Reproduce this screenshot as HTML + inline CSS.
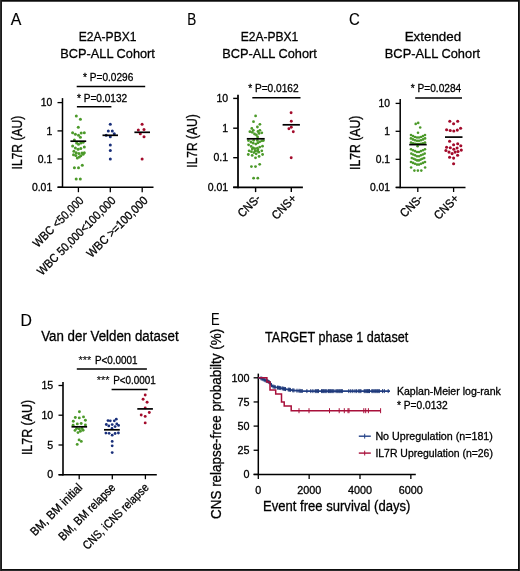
<!DOCTYPE html>
<html><head><meta charset="utf-8"><title>Figure</title>
<style>
html,body{margin:0;padding:0;background:#fff;}
svg{display:block;will-change:transform;font-family:"Liberation Sans",sans-serif;}
</style></head>
<body>
<svg width="520" height="571" viewBox="0 0 520 571">
<rect x="0" y="0" width="520" height="571" fill="#fff"/>
<g shape-rendering="crispEdges"><rect x="0" y="0" width="520" height="1" fill="#0b0b0b"/><rect x="0" y="1" width="520" height="1" fill="#4d4d4d"/><rect x="0" y="569" width="520" height="1" fill="#0d0d0d"/><rect x="0" y="570" width="520" height="1" fill="#2b2b2b"/><rect x="0" y="0" width="1" height="571" fill="#2e2e2e"/><rect x="1" y="0" width="1" height="571" fill="#1a1a1a"/><rect x="518" y="0" width="1" height="571" fill="#0d0d0d"/><rect x="519" y="0" width="1" height="571" fill="#2b2b2b"/></g>
<text x="10.8" y="25" font-size="16" stroke="#000" stroke-width="0.15" textLength="10.6" lengthAdjust="spacingAndGlyphs" fill="#000">A</text>
<text x="187.2" y="25" font-size="16" stroke="#000" stroke-width="0.15" textLength="9.0" lengthAdjust="spacingAndGlyphs" fill="#000">B</text>
<text x="349.0" y="25.4" font-size="16" stroke="#000" stroke-width="0.15" textLength="10.8" lengthAdjust="spacingAndGlyphs" fill="#000">C</text>
<text x="20.4" y="325.6" font-size="16.6" stroke="#000" stroke-width="0.15" textLength="11.4" lengthAdjust="spacingAndGlyphs" fill="#000">D</text>
<text x="210.9" y="325.0" font-size="16" stroke="#000" stroke-width="0.15" textLength="8.6" lengthAdjust="spacingAndGlyphs" fill="#000">E</text>
<text x="107.6" y="41.3" font-size="13.5" stroke="#000" stroke-width="0.3" text-anchor="middle" textLength="57.7" lengthAdjust="spacingAndGlyphs" fill="#000">E2A-PBX1</text>
<text x="107.6" y="58.2" font-size="13.5" stroke="#000" stroke-width="0.3" text-anchor="middle" textLength="94.6" lengthAdjust="spacingAndGlyphs" fill="#000">BCP-ALL Cohort</text>
<text x="83.1" y="81.2" font-size="10.8" stroke="#000" stroke-width="0.3" textLength="50.2" lengthAdjust="spacingAndGlyphs" fill="#000">* P=0.0296</text>
<line x1="76.7" y1="86.4" x2="145.2" y2="86.4" stroke="#000" stroke-width="1.5" stroke-linecap="butt"/>
<text x="77.0" y="101.6" font-size="10.8" stroke="#000" stroke-width="0.3" textLength="50.2" lengthAdjust="spacingAndGlyphs" fill="#000">* P=0.0132</text>
<line x1="76.9" y1="106.7" x2="111.4" y2="106.7" stroke="#000" stroke-width="1.5" stroke-linecap="butt"/>
<line x1="62.5" y1="98.1" x2="62.5" y2="187.95" stroke="#000" stroke-width="1.5" stroke-linecap="butt"/>
<line x1="57.6" y1="187.2" x2="153.5" y2="187.2" stroke="#000" stroke-width="1.5" stroke-linecap="butt"/>
<line x1="57.5" y1="102.6" x2="62.5" y2="102.6" stroke="#000" stroke-width="1.3" stroke-linecap="butt"/>
<text x="52.2" y="106.3" font-size="10.4" stroke="#000" stroke-width="0.3" text-anchor="end" fill="#000">10</text>
<line x1="57.5" y1="130.9" x2="62.5" y2="130.9" stroke="#000" stroke-width="1.3" stroke-linecap="butt"/>
<text x="52.2" y="134.6" font-size="10.4" stroke="#000" stroke-width="0.3" text-anchor="end" fill="#000">1</text>
<line x1="57.5" y1="159.0" x2="62.5" y2="159.0" stroke="#000" stroke-width="1.3" stroke-linecap="butt"/>
<text x="52.2" y="162.7" font-size="10.4" stroke="#000" stroke-width="0.3" text-anchor="end" fill="#000">0.1</text>
<line x1="57.5" y1="187.2" x2="62.5" y2="187.2" stroke="#000" stroke-width="1.3" stroke-linecap="butt"/>
<text x="52.2" y="190.89999999999998" font-size="10.4" stroke="#000" stroke-width="0.3" text-anchor="end" fill="#000">0.01</text>
<line x1="78.4" y1="187.2" x2="78.4" y2="192.2" stroke="#000" stroke-width="1.3" stroke-linecap="butt"/>
<line x1="110.3" y1="187.2" x2="110.3" y2="192.2" stroke="#000" stroke-width="1.3" stroke-linecap="butt"/>
<line x1="142.2" y1="187.2" x2="142.2" y2="192.2" stroke="#000" stroke-width="1.3" stroke-linecap="butt"/>
<text transform="translate(22.0,142.6) rotate(-90)" font-size="13.8" stroke="#000" stroke-width="0.3" text-anchor="middle" textLength="53.6" lengthAdjust="spacingAndGlyphs" fill="#000">IL7R (AU)</text>
<g fill="#4c9a2a"><circle cx="76.3" cy="116.1" r="1.5"/><circle cx="80.4" cy="119.3" r="1.5"/><circle cx="78.3" cy="127.3" r="1.5"/><circle cx="72.6" cy="132.8" r="1.5"/><circle cx="75.4" cy="134.3" r="1.5"/><circle cx="78.5" cy="135.3" r="1.5"/><circle cx="81.2" cy="133.0" r="1.5"/><circle cx="84.3" cy="132.8" r="1.5"/><circle cx="80.4" cy="137.3" r="1.5"/><circle cx="74.4" cy="140.0" r="1.5"/><circle cx="76.6" cy="143.0" r="1.5"/><circle cx="78.5" cy="144.2" r="1.5"/><circle cx="80.8" cy="143.0" r="1.5"/><circle cx="83.1" cy="142.3" r="1.5"/><circle cx="72.6" cy="145.9" r="1.5"/><circle cx="84.3" cy="146.9" r="1.5"/><circle cx="75.4" cy="148.1" r="1.5"/><circle cx="78.1" cy="149.2" r="1.5"/><circle cx="80.8" cy="148.5" r="1.5"/><circle cx="73.9" cy="151.2" r="1.5"/><circle cx="84.3" cy="152.7" r="1.5"/><circle cx="76.2" cy="152.7" r="1.5"/><circle cx="78.9" cy="153.5" r="1.5"/><circle cx="82.0" cy="153.1" r="1.5"/><circle cx="73.5" cy="154.8" r="1.5"/><circle cx="75.8" cy="155.4" r="1.5"/><circle cx="80.8" cy="155.8" r="1.5"/><circle cx="83.1" cy="154.3" r="1.5"/><circle cx="77.3" cy="158.1" r="1.5"/><circle cx="79.3" cy="157.0" r="1.5"/><circle cx="82.3" cy="165.3" r="1.5"/><circle cx="74.4" cy="167.7" r="1.5"/><circle cx="78.5" cy="167.7" r="1.5"/><circle cx="76.2" cy="178.9" r="1.5"/><circle cx="80.3" cy="178.9" r="1.5"/></g>
<line x1="70.4" y1="141.2" x2="86.2" y2="141.2" stroke="#000" stroke-width="1.7" stroke-linecap="butt"/>
<g fill="#192f7a"><circle cx="110.3" cy="124.3" r="1.5"/><circle cx="108.3" cy="131.1" r="1.5"/><circle cx="112.3" cy="131.1" r="1.5"/><circle cx="114.3" cy="133.8" r="1.5"/><circle cx="106.2" cy="135.3" r="1.5"/><circle cx="110.3" cy="136.7" r="1.5"/><circle cx="110.3" cy="145.1" r="1.5"/><circle cx="110.3" cy="150.5" r="1.5"/><circle cx="110.3" cy="158.9" r="1.5"/></g>
<line x1="102.5" y1="135.3" x2="118.0" y2="135.3" stroke="#000" stroke-width="1.7" stroke-linecap="butt"/>
<g fill="#a30b2b"><circle cx="142.1" cy="124.2" r="1.5"/><circle cx="138.3" cy="130.0" r="1.5"/><circle cx="144.0" cy="129.6" r="1.5"/><circle cx="140.3" cy="133.8" r="1.5"/><circle cx="144.0" cy="136.7" r="1.5"/><circle cx="142.1" cy="159.1" r="1.5"/></g>
<line x1="134.4" y1="132.3" x2="150.0" y2="132.3" stroke="#000" stroke-width="1.7" stroke-linecap="butt"/>
<text transform="translate(84.5,201.3) rotate(-45)" font-size="12.0" stroke="#000" stroke-width="0.3" text-anchor="end" textLength="66" lengthAdjust="spacingAndGlyphs" fill="#000">WBC &lt;50,000</text>
<text transform="translate(116.5,201.3) rotate(-45)" font-size="12.0" stroke="#000" stroke-width="0.3" text-anchor="end" textLength="105.5" lengthAdjust="spacingAndGlyphs" fill="#000">WBC 50,000&lt;100,000</text>
<text transform="translate(148.5,201.3) rotate(-45)" font-size="12.0" stroke="#000" stroke-width="0.3" text-anchor="end" textLength="80.5" lengthAdjust="spacingAndGlyphs" fill="#000">WBC &gt;=100,000</text>
<text x="269.5" y="41.3" font-size="13.5" stroke="#000" stroke-width="0.3" text-anchor="middle" textLength="57.7" lengthAdjust="spacingAndGlyphs" fill="#000">E2A-PBX1</text>
<text x="269.5" y="58.2" font-size="13.5" stroke="#000" stroke-width="0.3" text-anchor="middle" textLength="94.6" lengthAdjust="spacingAndGlyphs" fill="#000">BCP-ALL Cohort</text>
<text x="248.2" y="92.2" font-size="10.8" stroke="#000" stroke-width="0.3" textLength="50.4" lengthAdjust="spacingAndGlyphs" fill="#000">* P=0.0162</text>
<line x1="252.3" y1="97.8" x2="300.5" y2="97.8" stroke="#000" stroke-width="1.5" stroke-linecap="butt"/>
<line x1="238.0" y1="94.7" x2="238.0" y2="188.175" stroke="#000" stroke-width="1.75" stroke-linecap="butt"/>
<line x1="233.2" y1="187.3" x2="302.9" y2="187.3" stroke="#000" stroke-width="1.75" stroke-linecap="butt"/>
<line x1="233.2" y1="98.4" x2="238.0" y2="98.4" stroke="#000" stroke-width="1.4" stroke-linecap="butt"/>
<text x="228.1" y="101.9" font-size="10.5" stroke="#000" stroke-width="0.3" text-anchor="end" fill="#000">10</text>
<line x1="233.2" y1="128.2" x2="238.0" y2="128.2" stroke="#000" stroke-width="1.4" stroke-linecap="butt"/>
<text x="228.1" y="131.7" font-size="10.5" stroke="#000" stroke-width="0.3" text-anchor="end" fill="#000">1</text>
<line x1="233.2" y1="157.7" x2="238.0" y2="157.7" stroke="#000" stroke-width="1.4" stroke-linecap="butt"/>
<text x="228.1" y="161.2" font-size="10.5" stroke="#000" stroke-width="0.3" text-anchor="end" fill="#000">0.1</text>
<line x1="233.2" y1="187.3" x2="238.0" y2="187.3" stroke="#000" stroke-width="1.4" stroke-linecap="butt"/>
<text x="228.1" y="190.8" font-size="10.5" stroke="#000" stroke-width="0.3" text-anchor="end" fill="#000">0.01</text>
<line x1="255.6" y1="187.3" x2="255.6" y2="192.10000000000002" stroke="#000" stroke-width="1.4" stroke-linecap="butt"/>
<line x1="291.3" y1="187.3" x2="291.3" y2="192.10000000000002" stroke="#000" stroke-width="1.4" stroke-linecap="butt"/>
<text transform="translate(196.8,141.0) rotate(-90)" font-size="13.8" stroke="#000" stroke-width="0.3" text-anchor="middle" textLength="53.4" lengthAdjust="spacingAndGlyphs" fill="#000">IL7R (AU)</text>
<g fill="#4c9a2a"><circle cx="255.6" cy="115.9" r="1.4"/><circle cx="253.5" cy="121.7" r="1.4"/><circle cx="259.9" cy="124.3" r="1.4"/><circle cx="257.4" cy="127.0" r="1.4"/><circle cx="251.8" cy="128.4" r="1.4"/><circle cx="259.9" cy="130.3" r="1.4"/><circle cx="253.3" cy="130.3" r="1.4"/><circle cx="249.9" cy="131.7" r="1.4"/><circle cx="252.2" cy="132.3" r="1.4"/><circle cx="258.0" cy="131.5" r="1.4"/><circle cx="261.8" cy="132.8" r="1.4"/><circle cx="254.5" cy="134.0" r="1.4"/><circle cx="259.1" cy="133.4" r="1.4"/><circle cx="256.4" cy="135.0" r="1.4"/><circle cx="257.6" cy="136.9" r="1.4"/><circle cx="248.4" cy="140.6" r="1.4"/><circle cx="250.9" cy="142.0" r="1.4"/><circle cx="253.7" cy="140.3" r="1.4"/><circle cx="253.2" cy="143.2" r="1.4"/><circle cx="255.8" cy="144.1" r="1.4"/><circle cx="257.8" cy="142.9" r="1.4"/><circle cx="259.7" cy="141.8" r="1.4"/><circle cx="261.8" cy="140.8" r="1.4"/><circle cx="263.4" cy="140.6" r="1.4"/><circle cx="257.4" cy="140.4" r="1.4"/><circle cx="248.6" cy="144.8" r="1.4"/><circle cx="251.2" cy="146.4" r="1.4"/><circle cx="253.2" cy="147.8" r="1.4"/><circle cx="254.9" cy="148.7" r="1.4"/><circle cx="257.4" cy="148.2" r="1.4"/><circle cx="259.7" cy="147.1" r="1.4"/><circle cx="262.5" cy="146.2" r="1.4"/><circle cx="252.3" cy="149.0" r="1.4"/><circle cx="257.9" cy="149.8" r="1.4"/><circle cx="249.1" cy="150.8" r="1.4"/><circle cx="251.4" cy="151.7" r="1.4"/><circle cx="253.9" cy="152.6" r="1.4"/><circle cx="256.2" cy="153.8" r="1.4"/><circle cx="258.8" cy="152.2" r="1.4"/><circle cx="261.8" cy="150.8" r="1.4"/><circle cx="255.1" cy="150.9" r="1.4"/><circle cx="257.4" cy="150.9" r="1.4"/><circle cx="248.3" cy="154.5" r="1.4"/><circle cx="252.2" cy="155.4" r="1.4"/><circle cx="255.5" cy="157.8" r="1.4"/><circle cx="259.1" cy="156.4" r="1.4"/><circle cx="262.6" cy="154.5" r="1.4"/><circle cx="259.7" cy="164.3" r="1.4"/><circle cx="251.4" cy="166.6" r="1.4"/><circle cx="255.5" cy="166.6" r="1.4"/><circle cx="253.6" cy="178.2" r="1.4"/><circle cx="257.8" cy="178.2" r="1.4"/></g>
<line x1="246.8" y1="138.8" x2="264.7" y2="138.8" stroke="#000" stroke-width="1.7" stroke-linecap="butt"/>
<g fill="#a30b2b"><circle cx="291.1" cy="112.7" r="1.45"/><circle cx="291.3" cy="121.2" r="1.45"/><circle cx="291.3" cy="127.3" r="1.45"/><circle cx="288.9" cy="128.7" r="1.45"/><circle cx="293.3" cy="131.8" r="1.45"/><circle cx="291.2" cy="157.7" r="1.45"/></g>
<line x1="282.6" y1="124.8" x2="299.9" y2="124.8" stroke="#000" stroke-width="1.7" stroke-linecap="butt"/>
<text transform="translate(261.3,199.3) rotate(-45)" font-size="12.0" stroke="#000" stroke-width="0.3" text-anchor="end" textLength="26.5" lengthAdjust="spacingAndGlyphs" fill="#000">CNS-</text>
<text transform="translate(297.3,199.3) rotate(-45)" font-size="12.0" stroke="#000" stroke-width="0.3" text-anchor="end" textLength="29.5" lengthAdjust="spacingAndGlyphs" fill="#000">CNS+</text>
<text x="432.9" y="40.9" font-size="13.5" stroke="#000" stroke-width="0.3" text-anchor="middle" textLength="56.5" lengthAdjust="spacingAndGlyphs" fill="#000">Extended</text>
<text x="432.4" y="58.0" font-size="13.5" stroke="#000" stroke-width="0.3" text-anchor="middle" textLength="95.2" lengthAdjust="spacingAndGlyphs" fill="#000">BCP-ALL Cohort</text>
<text x="410.8" y="91.6" font-size="10.8" stroke="#000" stroke-width="0.3" textLength="50.4" lengthAdjust="spacingAndGlyphs" fill="#000">* P=0.0284</text>
<line x1="415.2" y1="98.0" x2="462.0" y2="98.0" stroke="#000" stroke-width="1.5" stroke-linecap="butt"/>
<line x1="400.2" y1="99.0" x2="400.2" y2="188.15" stroke="#000" stroke-width="1.5" stroke-linecap="butt"/>
<line x1="395.8" y1="187.4" x2="465.5" y2="187.4" stroke="#000" stroke-width="1.5" stroke-linecap="butt"/>
<line x1="395.59999999999997" y1="103.4" x2="400.2" y2="103.4" stroke="#000" stroke-width="1.3" stroke-linecap="butt"/>
<text x="390.0" y="106.9" font-size="10.3" stroke="#000" stroke-width="0.3" text-anchor="end" fill="#000">10</text>
<line x1="395.59999999999997" y1="131.3" x2="400.2" y2="131.3" stroke="#000" stroke-width="1.3" stroke-linecap="butt"/>
<text x="390.0" y="134.8" font-size="10.3" stroke="#000" stroke-width="0.3" text-anchor="end" fill="#000">1</text>
<line x1="395.59999999999997" y1="159.3" x2="400.2" y2="159.3" stroke="#000" stroke-width="1.3" stroke-linecap="butt"/>
<text x="390.0" y="162.8" font-size="10.3" stroke="#000" stroke-width="0.3" text-anchor="end" fill="#000">0.1</text>
<line x1="395.59999999999997" y1="187.4" x2="400.2" y2="187.4" stroke="#000" stroke-width="1.3" stroke-linecap="butt"/>
<text x="390.0" y="190.9" font-size="10.3" stroke="#000" stroke-width="0.3" text-anchor="end" fill="#000">0.01</text>
<line x1="417.8" y1="187.4" x2="417.8" y2="192.0" stroke="#000" stroke-width="1.3" stroke-linecap="butt"/>
<line x1="453.6" y1="187.4" x2="453.6" y2="192.0" stroke="#000" stroke-width="1.3" stroke-linecap="butt"/>
<text transform="translate(359.7,142.8) rotate(-90)" font-size="13.8" stroke="#000" stroke-width="0.3" text-anchor="middle" textLength="54.4" lengthAdjust="spacingAndGlyphs" fill="#000">IL7R (AU)</text>
<g fill="#4c9a2a"><circle cx="415.7" cy="123.9" r="1.3"/><circle cx="418.2" cy="122.9" r="1.3"/><circle cx="420.2" cy="127.5" r="1.3"/><circle cx="418.0" cy="132.7" r="1.3"/><circle cx="411.0" cy="135.0" r="1.3"/><circle cx="413.0" cy="136.1" r="1.3"/><circle cx="415.0" cy="137.0" r="1.3"/><circle cx="417.0" cy="137.5" r="1.3"/><circle cx="419.0" cy="137.5" r="1.3"/><circle cx="421.0" cy="137.0" r="1.3"/><circle cx="423.0" cy="136.1" r="1.3"/><circle cx="425.0" cy="135.0" r="1.3"/><circle cx="410.9" cy="138.4" r="1.3"/><circle cx="412.9" cy="139.4" r="1.3"/><circle cx="415.0" cy="140.2" r="1.3"/><circle cx="417.0" cy="140.7" r="1.3"/><circle cx="419.0" cy="140.7" r="1.3"/><circle cx="421.0" cy="140.2" r="1.3"/><circle cx="423.1" cy="139.4" r="1.3"/><circle cx="425.1" cy="138.4" r="1.3"/><circle cx="411.0" cy="142.6" r="1.3"/><circle cx="413.0" cy="143.2" r="1.3"/><circle cx="415.0" cy="143.8" r="1.3"/><circle cx="417.0" cy="144.1" r="1.3"/><circle cx="419.0" cy="144.1" r="1.3"/><circle cx="421.0" cy="143.8" r="1.3"/><circle cx="423.0" cy="143.2" r="1.3"/><circle cx="425.0" cy="142.6" r="1.3"/><circle cx="417.6" cy="146.2" r="1.3"/><circle cx="411.0" cy="149.3" r="1.3"/><circle cx="413.0" cy="150.2" r="1.3"/><circle cx="415.0" cy="151.1" r="1.3"/><circle cx="417.0" cy="152.0" r="1.3"/><circle cx="419.0" cy="152.0" r="1.3"/><circle cx="421.0" cy="151.1" r="1.3"/><circle cx="423.0" cy="150.2" r="1.3"/><circle cx="425.0" cy="149.3" r="1.3"/><circle cx="411.3" cy="153.6" r="1.3"/><circle cx="413.2" cy="154.5" r="1.3"/><circle cx="415.1" cy="155.3" r="1.3"/><circle cx="417.0" cy="156.2" r="1.3"/><circle cx="419.0" cy="156.2" r="1.3"/><circle cx="420.9" cy="155.3" r="1.3"/><circle cx="422.8" cy="154.5" r="1.3"/><circle cx="424.7" cy="153.6" r="1.3"/><circle cx="411.8" cy="158.0" r="1.3"/><circle cx="413.6" cy="158.8" r="1.3"/><circle cx="415.3" cy="159.6" r="1.3"/><circle cx="417.1" cy="160.4" r="1.3"/><circle cx="418.9" cy="160.4" r="1.3"/><circle cx="420.7" cy="159.6" r="1.3"/><circle cx="422.4" cy="158.8" r="1.3"/><circle cx="424.2" cy="158.0" r="1.3"/><circle cx="411.0" cy="162.0" r="1.3"/><circle cx="413.0" cy="162.9" r="1.3"/><circle cx="415.0" cy="163.7" r="1.3"/><circle cx="417.0" cy="164.6" r="1.3"/><circle cx="419.0" cy="164.6" r="1.3"/><circle cx="421.0" cy="163.7" r="1.3"/><circle cx="423.0" cy="162.9" r="1.3"/><circle cx="425.0" cy="162.0" r="1.3"/><circle cx="411.1" cy="167.5" r="1.3"/><circle cx="425.1" cy="167.5" r="1.3"/><circle cx="414.4" cy="170.6" r="1.3"/><circle cx="417.9" cy="170.6" r="1.3"/><circle cx="421.3" cy="170.6" r="1.3"/></g>
<line x1="409.2" y1="144.6" x2="426.7" y2="144.6" stroke="#000" stroke-width="1.7" stroke-linecap="butt"/>
<g fill="#a30b2b"><circle cx="449.8" cy="121.2" r="1.55"/><circle cx="457.7" cy="121.2" r="1.55"/><circle cx="453.6" cy="123.8" r="1.55"/><circle cx="446.6" cy="129.7" r="1.55"/><circle cx="450.2" cy="130.5" r="1.55"/><circle cx="453.8" cy="131.0" r="1.55"/><circle cx="457.3" cy="130.1" r="1.55"/><circle cx="460.6" cy="128.2" r="1.55"/><circle cx="449.6" cy="141.3" r="1.55"/><circle cx="453.6" cy="144.7" r="1.55"/><circle cx="457.7" cy="143.8" r="1.55"/><circle cx="460.8" cy="145.7" r="1.55"/><circle cx="446.6" cy="147.2" r="1.55"/><circle cx="450.3" cy="147.7" r="1.55"/><circle cx="457.1" cy="148.0" r="1.55"/><circle cx="453.8" cy="149.3" r="1.55"/><circle cx="445.9" cy="150.5" r="1.55"/><circle cx="461.3" cy="150.1" r="1.55"/><circle cx="449.0" cy="152.1" r="1.55"/><circle cx="455.1" cy="152.1" r="1.55"/><circle cx="458.0" cy="151.5" r="1.55"/><circle cx="452.1" cy="153.6" r="1.55"/><circle cx="457.6" cy="155.3" r="1.55"/><circle cx="449.6" cy="157.2" r="1.55"/><circle cx="453.6" cy="158.1" r="1.55"/><circle cx="453.6" cy="163.7" r="1.55"/></g>
<line x1="445.0" y1="137.1" x2="462.5" y2="137.1" stroke="#000" stroke-width="1.7" stroke-linecap="butt"/>
<text transform="translate(423.6,199.3) rotate(-45)" font-size="12.0" stroke="#000" stroke-width="0.3" text-anchor="end" textLength="26.5" lengthAdjust="spacingAndGlyphs" fill="#000">CNS-</text>
<text transform="translate(459.6,199.3) rotate(-45)" font-size="12.0" stroke="#000" stroke-width="0.3" text-anchor="end" textLength="29.5" lengthAdjust="spacingAndGlyphs" fill="#000">CNS+</text>
<text x="41.2" y="341.4" font-size="14.0" stroke="#000" stroke-width="0.3" textLength="137.4" lengthAdjust="spacingAndGlyphs" fill="#000">Van der Velden dataset</text>
<text x="78.6" y="363.5" font-size="10.8" stroke="#000" stroke-width="0.1" textLength="12.8" lengthAdjust="spacingAndGlyphs" fill="#000">***</text>
<text x="95.0" y="363.5" font-size="10.8" stroke="#000" stroke-width="0.3" textLength="42.6" lengthAdjust="spacingAndGlyphs" fill="#000">P&lt;0.0001</text>
<line x1="76.8" y1="368.9" x2="146.9" y2="368.9" stroke="#000" stroke-width="1.5" stroke-linecap="butt"/>
<text x="96.8" y="383.9" font-size="10.8" stroke="#000" stroke-width="0.1" textLength="12.8" lengthAdjust="spacingAndGlyphs" fill="#000">***</text>
<text x="113.2" y="383.9" font-size="10.8" stroke="#000" stroke-width="0.3" textLength="42.6" lengthAdjust="spacingAndGlyphs" fill="#000">P&lt;0.0001</text>
<line x1="111.6" y1="389.4" x2="147.6" y2="389.4" stroke="#000" stroke-width="1.5" stroke-linecap="butt"/>
<line x1="63.0" y1="381.9" x2="63.0" y2="475.5" stroke="#000" stroke-width="1.6" stroke-linecap="butt"/>
<line x1="58.6" y1="474.7" x2="156.8" y2="474.7" stroke="#000" stroke-width="1.6" stroke-linecap="butt"/>
<line x1="58.5" y1="385.5" x2="63.0" y2="385.5" stroke="#000" stroke-width="1.3" stroke-linecap="butt"/>
<text x="53.2" y="389.2" font-size="10.6" stroke="#000" stroke-width="0.3" text-anchor="end" fill="#000">15</text>
<line x1="58.5" y1="415.2" x2="63.0" y2="415.2" stroke="#000" stroke-width="1.3" stroke-linecap="butt"/>
<text x="53.2" y="418.9" font-size="10.6" stroke="#000" stroke-width="0.3" text-anchor="end" fill="#000">10</text>
<line x1="58.5" y1="445.0" x2="63.0" y2="445.0" stroke="#000" stroke-width="1.3" stroke-linecap="butt"/>
<text x="53.2" y="448.7" font-size="10.6" stroke="#000" stroke-width="0.3" text-anchor="end" fill="#000">5</text>
<line x1="58.5" y1="474.7" x2="63.0" y2="474.7" stroke="#000" stroke-width="1.3" stroke-linecap="butt"/>
<text x="53.2" y="478.4" font-size="10.6" stroke="#000" stroke-width="0.3" text-anchor="end" fill="#000">0</text>
<line x1="79.2" y1="474.7" x2="79.2" y2="479.2" stroke="#000" stroke-width="1.3" stroke-linecap="butt"/>
<line x1="112.3" y1="474.7" x2="112.3" y2="479.2" stroke="#000" stroke-width="1.3" stroke-linecap="butt"/>
<line x1="145.4" y1="474.7" x2="145.4" y2="479.2" stroke="#000" stroke-width="1.3" stroke-linecap="butt"/>
<text transform="translate(31.9,427.5) rotate(-90)" font-size="13.8" stroke="#000" stroke-width="0.3" text-anchor="middle" textLength="55.2" lengthAdjust="spacingAndGlyphs" fill="#000">IL7R (AU)</text>
<g fill="#4c9a2a"><circle cx="79.4" cy="411.7" r="1.45"/><circle cx="75.3" cy="417.5" r="1.45"/><circle cx="79.3" cy="417.9" r="1.45"/><circle cx="83.5" cy="416.9" r="1.45"/><circle cx="73.3" cy="421.2" r="1.45"/><circle cx="85.4" cy="420.3" r="1.45"/><circle cx="77.3" cy="423.9" r="1.45"/><circle cx="81.2" cy="423.5" r="1.45"/><circle cx="73.1" cy="425.2" r="1.45"/><circle cx="85.4" cy="424.9" r="1.45"/><circle cx="76.6" cy="428.5" r="1.45"/><circle cx="79.3" cy="428.9" r="1.45"/><circle cx="82.0" cy="428.5" r="1.45"/><circle cx="75.0" cy="430.4" r="1.45"/><circle cx="83.1" cy="430.3" r="1.45"/><circle cx="80.4" cy="431.2" r="1.45"/><circle cx="78.0" cy="432.6" r="1.45"/><circle cx="79.1" cy="439.9" r="1.45"/><circle cx="81.3" cy="441.4" r="1.45"/><circle cx="77.2" cy="444.4" r="1.45"/></g>
<line x1="71.5" y1="426.8" x2="87.1" y2="426.8" stroke="#000" stroke-width="1.7" stroke-linecap="butt"/>
<g fill="#192f7a"><circle cx="108.0" cy="420.6" r="1.4"/><circle cx="110.3" cy="420.8" r="1.4"/><circle cx="114.3" cy="420.8" r="1.4"/><circle cx="116.3" cy="419.2" r="1.4"/><circle cx="106.3" cy="424.5" r="1.4"/><circle cx="108.8" cy="425.9" r="1.4"/><circle cx="112.2" cy="424.6" r="1.4"/><circle cx="116.8" cy="423.9" r="1.4"/><circle cx="118.6" cy="425.4" r="1.4"/><circle cx="115.1" cy="426.6" r="1.4"/><circle cx="112.0" cy="428.5" r="1.4"/><circle cx="105.9" cy="433.1" r="1.4"/><circle cx="109.1" cy="433.3" r="1.4"/><circle cx="112.2" cy="435.2" r="1.4"/><circle cx="115.1" cy="433.5" r="1.4"/><circle cx="118.4" cy="433.0" r="1.4"/><circle cx="112.2" cy="441.4" r="1.4"/><circle cx="112.2" cy="445.8" r="1.4"/><circle cx="112.2" cy="452.6" r="1.4"/></g>
<line x1="104.0" y1="429.8" x2="119.8" y2="429.8" stroke="#000" stroke-width="1.7" stroke-linecap="butt"/>
<g fill="#a30b2b"><circle cx="145.2" cy="395.0" r="1.45"/><circle cx="143.1" cy="399.3" r="1.45"/><circle cx="147.1" cy="402.3" r="1.45"/><circle cx="145.2" cy="407.9" r="1.45"/><circle cx="149.3" cy="412.5" r="1.45"/><circle cx="141.2" cy="415.0" r="1.45"/><circle cx="145.2" cy="416.4" r="1.45"/><circle cx="145.2" cy="422.9" r="1.45"/></g>
<line x1="137.3" y1="408.9" x2="152.9" y2="408.9" stroke="#000" stroke-width="1.7" stroke-linecap="butt"/>
<text transform="translate(83.1,488.3) rotate(-45)" font-size="12.0" stroke="#000" stroke-width="0.3" text-anchor="end" textLength="68" lengthAdjust="spacingAndGlyphs" fill="#000">BM, BM initial</text>
<text transform="translate(116.2,488.3) rotate(-45)" font-size="12.0" stroke="#000" stroke-width="0.3" text-anchor="end" textLength="75" lengthAdjust="spacingAndGlyphs" fill="#000">BM, BM relapse</text>
<text transform="translate(149.4,488.3) rotate(-45)" font-size="12.0" stroke="#000" stroke-width="0.3" text-anchor="end" textLength="87.5" lengthAdjust="spacingAndGlyphs" fill="#000">CNS, iCNS relapse</text>
<text x="265.0" y="341.7" font-size="14.0" stroke="#000" stroke-width="0.3" textLength="143.2" lengthAdjust="spacingAndGlyphs" fill="#000">TARGET phase 1 dataset</text>
<line x1="258.3" y1="373.6" x2="258.3" y2="475.15" stroke="#000" stroke-width="1.5" stroke-linecap="butt"/>
<line x1="253.6" y1="474.4" x2="415.8" y2="474.4" stroke="#000" stroke-width="1.5" stroke-linecap="butt"/>
<line x1="253.6" y1="377.8" x2="258.3" y2="377.8" stroke="#000" stroke-width="1.3" stroke-linecap="butt"/>
<text x="249.5" y="381.5" font-size="10.8" stroke="#000" stroke-width="0.3" text-anchor="end" fill="#000">100</text>
<line x1="253.6" y1="401.95" x2="258.3" y2="401.95" stroke="#000" stroke-width="1.3" stroke-linecap="butt"/>
<text x="249.5" y="405.65" font-size="10.8" stroke="#000" stroke-width="0.3" text-anchor="end" fill="#000">75</text>
<line x1="253.6" y1="426.1" x2="258.3" y2="426.1" stroke="#000" stroke-width="1.3" stroke-linecap="butt"/>
<text x="249.5" y="429.8" font-size="10.8" stroke="#000" stroke-width="0.3" text-anchor="end" fill="#000">50</text>
<line x1="253.6" y1="450.25" x2="258.3" y2="450.25" stroke="#000" stroke-width="1.3" stroke-linecap="butt"/>
<text x="249.5" y="453.95" font-size="10.8" stroke="#000" stroke-width="0.3" text-anchor="end" fill="#000">25</text>
<line x1="253.6" y1="474.4" x2="258.3" y2="474.4" stroke="#000" stroke-width="1.3" stroke-linecap="butt"/>
<text x="249.5" y="478.09999999999997" font-size="10.8" stroke="#000" stroke-width="0.3" text-anchor="end" fill="#000">0</text>
<line x1="258.3" y1="474.4" x2="258.3" y2="479.0" stroke="#000" stroke-width="1.3" stroke-linecap="butt"/>
<text x="258.3" y="493.6" font-size="10.8" stroke="#000" stroke-width="0.3" text-anchor="middle" fill="#000">0</text>
<line x1="309.15000000000003" y1="474.4" x2="309.15000000000003" y2="479.0" stroke="#000" stroke-width="1.3" stroke-linecap="butt"/>
<text x="309.15000000000003" y="493.6" font-size="10.8" stroke="#000" stroke-width="0.3" text-anchor="middle" fill="#000">2000</text>
<line x1="360.0" y1="474.4" x2="360.0" y2="479.0" stroke="#000" stroke-width="1.3" stroke-linecap="butt"/>
<text x="360.0" y="493.6" font-size="10.8" stroke="#000" stroke-width="0.3" text-anchor="middle" fill="#000">4000</text>
<line x1="410.85" y1="474.4" x2="410.85" y2="479.0" stroke="#000" stroke-width="1.3" stroke-linecap="butt"/>
<text x="410.85" y="493.6" font-size="10.8" stroke="#000" stroke-width="0.3" text-anchor="middle" fill="#000">6000</text>
<text x="263.1" y="510.6" font-size="14.0" stroke="#000" stroke-width="0.3" textLength="147.3" lengthAdjust="spacingAndGlyphs" fill="#000">Event free survival (days)</text>
<text transform="translate(220.6,423.9) rotate(-90)" font-size="13.8" stroke="#000" stroke-width="0.3" text-anchor="middle" textLength="190" lengthAdjust="spacingAndGlyphs" fill="#000">CNS relapse-free probabilty (%)</text>
<path d="M258.3,377.8 L261.0,378.3 L263.0,379.2 L265.4,380.4 L267.5,381.2 L270.0,382.6 L271.5,385.2 L273.0,386.5 L276.5,387.4 L280.8,388.1 L284.5,388.9 L288.5,389.6 L292.5,390.3 L296.2,390.6 L300.0,390.9 L303.8,391.1 L390.0,391.1" fill="none" stroke="#234187" stroke-width="1.9"/>
<path d="M261.0,376.3v4.0M262.1,376.8v4.0M263.1,377.2v4.0M264.2,377.8v4.0M265.2,378.3v4.0M266.3,378.7v4.0M267.3,379.1v4.0M268.4,379.7v4.0M269.4,380.3v4.0M270.5,381.4v4.0M271.5,383.2v4.0M273.0,384.5v4.0M274.1,384.8v4.0M275.1,385.0v4.0M277.5,385.6v4.0M278.6,385.7v4.0M279.6,385.9v4.0M280.7,386.1v4.0M282.3,386.4v4.0M283.4,386.7v4.0M284.4,386.9v4.0M285.5,387.1v4.0M288.3,387.6v4.0M289.4,387.7v4.0M290.4,387.9v4.0M292.8,388.3v4.0M293.9,388.4v4.0M299.0,388.8v4.0M300.1,388.9v4.0M301.1,389.0v4.0M302.2,389.0v4.0M315.2,389.1v4.0M316.2,389.1v4.0M317.3,389.1v4.0M318.4,389.1v4.0M321.6,389.1v4.0M322.7,389.1v4.0M323.7,389.1v4.0M324.8,389.1v4.0M325.8,389.1v4.0M326.9,389.1v4.0M328.6,389.1v4.0M329.7,389.1v4.0M330.7,389.1v4.0M331.8,389.1v4.0M332.8,389.1v4.0M333.9,389.1v4.0M336.0,389.1v4.0M337.1,389.1v4.0M338.1,389.1v4.0M339.2,389.1v4.0M340.2,389.1v4.0M341.3,389.1v4.0M342.3,389.1v4.0M358.8,389.1v4.0M359.9,389.1v4.0M360.9,389.1v4.0M364.2,389.1v4.0M365.2,389.1v4.0M366.3,389.1v4.0M367.4,389.1v4.0M368.4,389.1v4.0M369.5,389.1v4.0M371.9,389.1v4.0M372.9,389.1v4.0M374.0,389.1v4.0M375.1,389.1v4.0M376.1,389.1v4.0M377.2,389.1v4.0M378.2,389.1v4.0M379.3,389.1v4.0M306.9,389.1v4.0M310.8,389.1v4.0M297.0,388.7v4.0M312.9,389.1v4.0M348.8,389.1v4.0M350.8,389.1v4.0M352.8,389.1v4.0M355.0,389.1v4.0M356.7,389.1v4.0M382.6,389.1v4.0M384.3,389.1v4.0M388.2,389.1v4.0" fill="none" stroke="#1d3778" stroke-width="1.0"/>
<path d="M258.3,377.8 L266.9,377.8 L266.9,381.9 L270.0,381.9 L270.0,389.9 L275.7,389.9 L275.7,393.9 L281.5,393.9 L281.5,401.9 L284.2,401.9 L284.2,406.1 L291.2,406.1 L291.2,410.7 L380.8,410.7" fill="none" stroke="#a80f3a" stroke-width="1.5" stroke-linejoin="miter"/>
<path d="M299.0,408.2v5.0M309.0,408.2v5.0M329.5,408.2v5.0M339.2,408.2v5.0M344.3,408.2v5.0M348.0,408.2v5.0M349.0,408.2v5.0M363.8,408.2v5.0M365.7,408.2v5.0M368.4,408.2v5.0M380.6,408.2v5.0" fill="none" stroke="#a80f3a" stroke-width="1.0"/>
<text x="396.9" y="394.9" font-size="11" stroke="#000" stroke-width="0.3" textLength="104" lengthAdjust="spacingAndGlyphs" fill="#000">Kaplan-Meier log-rank</text>
<text x="396.9" y="409.1" font-size="11" stroke="#000" stroke-width="0.3" textLength="50.8" lengthAdjust="spacingAndGlyphs" fill="#000">* P=0.0132</text>
<line x1="358.8" y1="436.2" x2="370.8" y2="436.2" stroke="#234187" stroke-width="1.4" stroke-linecap="butt"/>
<line x1="364.7" y1="433.8" x2="364.7" y2="438.6" stroke="#234187" stroke-width="1.0" stroke-linecap="butt"/>
<line x1="358.8" y1="453.1" x2="370.8" y2="453.1" stroke="#a80f3a" stroke-width="1.4" stroke-linecap="butt"/>
<line x1="364.7" y1="450.7" x2="364.7" y2="455.5" stroke="#a80f3a" stroke-width="1.0" stroke-linecap="butt"/>
<text x="375.4" y="439.9" font-size="11" stroke="#000" stroke-width="0.3" textLength="117.5" lengthAdjust="spacingAndGlyphs" fill="#000">No Upregulation (n=181)</text>
<text x="375.4" y="456.8" font-size="11" stroke="#000" stroke-width="0.3" textLength="117.5" lengthAdjust="spacingAndGlyphs" fill="#000">IL7R Upregulation (n=26)</text>
</svg>
</body></html>
